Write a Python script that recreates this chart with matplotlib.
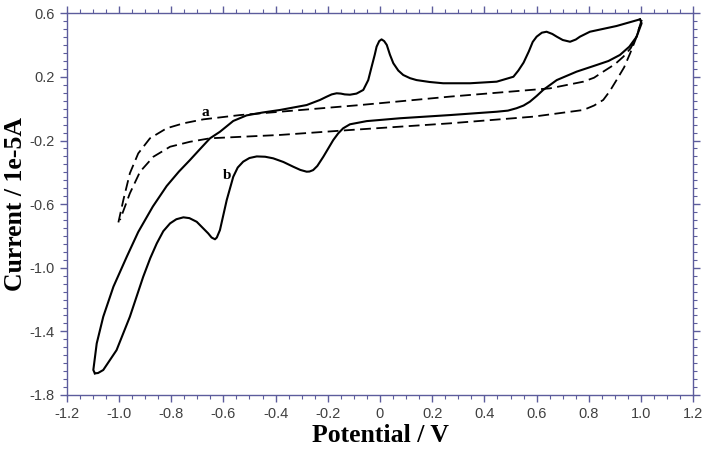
import matplotlib.pyplot as plt
from matplotlib.ticker import MultipleLocator, FixedFormatter, FixedLocator

# curve b (solid), anodic sweep from -1.1 V up to 1.0 V
b_fwd_x = [-1.092, -1.098, -1.085, -1.060, -1.021, -0.970, -0.926, -0.870, -0.817, -0.770,
           -0.728, -0.690, -0.651, -0.613, -0.562, -0.511, -0.450, -0.383, -0.281, -0.230,
           -0.205, -0.185, -0.166, -0.150, -0.135, -0.115, -0.090, -0.064, -0.045, -0.032,
           -0.020, -0.013, -0.003, 0.006, 0.016, 0.026, 0.038, 0.051, 0.070, 0.089,
           0.115, 0.140, 0.190, 0.242, 0.345, 0.447, 0.511, 0.530, 0.550, 0.570,
           0.585, 0.600, 0.620, 0.638, 0.660, 0.677, 0.700, 0.728, 0.750, 0.766,
           0.804, 0.906, 0.996]
b_fwd_y = [-1.664, -1.643, -1.476, -1.308, -1.119, -0.931, -0.775, -0.615, -0.486, -0.395,
           -0.323, -0.255, -0.186, -0.145, -0.077, -0.042, -0.024, -0.008, 0.023, 0.055,
           0.075, 0.090, 0.097, 0.095, 0.090, 0.088, 0.095, 0.118, 0.180, 0.264,
           0.340, 0.390, 0.425, 0.436, 0.425, 0.401, 0.340, 0.286, 0.240, 0.212,
           0.192, 0.180, 0.168, 0.160, 0.160, 0.170, 0.201, 0.240, 0.290, 0.360,
           0.420, 0.453, 0.478, 0.484, 0.470, 0.453, 0.432, 0.421, 0.435, 0.453,
           0.484, 0.520, 0.562]

# curve b, cathodic sweep back from 1.0 V to -1.1 V
b_rev_x = [0.996, 1.002, 0.983, 0.955, 0.919, 0.875, 0.830, 0.753, 0.677, 0.625,
           0.600, 0.574, 0.550, 0.523, 0.490, 0.447, 0.268, 0.077, -0.051, -0.115,
           -0.141, -0.160, -0.179, -0.217, -0.240, -0.256, -0.270, -0.281, -0.305, -0.332,
           -0.370, -0.409, -0.440, -0.472, -0.500, -0.524, -0.545, -0.562, -0.587, -0.613,
           -0.625, -0.632, -0.645, -0.658, -0.702, -0.730, -0.753, -0.780, -0.804, -0.830,
           -0.855, -0.880, -0.907, -0.958, -1.009, -1.060, -1.080, -1.092]
b_rev_y = [0.562, 0.537, 0.453, 0.390, 0.338, 0.300, 0.275, 0.233, 0.180, 0.118,
           0.080, 0.044, 0.020, 0.003, -0.012, -0.019, -0.040, -0.060, -0.078, -0.098,
           -0.123, -0.155, -0.197, -0.302, -0.360, -0.386, -0.395, -0.396, -0.385, -0.365,
           -0.335, -0.312, -0.302, -0.300, -0.310, -0.333, -0.370, -0.428, -0.574, -0.763,
           -0.810, -0.821, -0.810, -0.784, -0.711, -0.688, -0.683, -0.695, -0.721, -0.770,
           -0.847, -0.940, -1.057, -1.308, -1.518, -1.643, -1.662, -1.664]

# curve a (dashed), upper and lower branches
a_fwd_x = [-1.002, -0.983, -0.958, -0.926, -0.881, -0.817, -0.753, -0.677, -0.536, -0.383,
           -0.076, 0.268, 0.651, 0.779, 0.820, 0.855, 0.900, 0.932, 0.960, 0.983, 1.002]
a_fwd_y = [-0.715, -0.574, -0.406, -0.281, -0.186, -0.123, -0.092, -0.067, -0.040, -0.019,
           0.023, 0.076, 0.128, 0.170, 0.195, 0.233, 0.280, 0.327, 0.380, 0.453, 0.558]
a_rev_x = [1.002, 0.996, 0.980, 0.958, 0.935, 0.906, 0.880, 0.855, 0.820, 0.779,
           0.587, 0.268, -0.115, -0.383, -0.651, -0.728, -0.804, -0.868, -0.919, -0.958,
           -0.989, -0.996]
a_rev_y = [0.558, 0.526, 0.440, 0.348, 0.260, 0.180, 0.110, 0.055, 0.020, -0.008,
           -0.050, -0.092, -0.134, -0.165, -0.186, -0.208, -0.239, -0.302, -0.396, -0.532,
           -0.669, -0.700]

x_ticks = [-1.2, -1.0, -0.8, -0.6, -0.4, -0.2, 0.0, 0.2, 0.4, 0.6, 0.8, 1.0, 1.2]
x_labels = ['-1.2', '-1.0', '-0.8', '-0.6', '-0.4', '-0.2', '0', '0.2', '0.4', '0.6', '0.8', '1.0', '1.2']
y_ticks = [-1.8, -1.4, -1.0, -0.6, -0.2, 0.2, 0.6]
y_labels = ['-1.8', '-1.4', '-1.0', '-0.6', '-0.2', '0.2', '0.6']

axis_col = '#5c5c9c'
serif = ['Liberation Serif', 'DejaVu Serif']

fig = plt.figure(figsize=(7.11, 4.58), dpi=100)
ax = fig.add_axes([0.0938, 0.1376, 0.8813, 0.8334])

ax.plot(b_fwd_x, b_fwd_y, color='black', lw=1.5, solid_joinstyle='round')
ax.plot(b_rev_x, b_rev_y, color='black', lw=1.5, solid_joinstyle='round')
ax.plot(a_fwd_x, a_fwd_y, color='black', lw=1.3, ls=(0, (6, 3)))
ax.plot(a_rev_x, a_rev_y, color='black', lw=1.3, ls=(0, (6, 3)))

ax.text(-0.67, -0.065, 'a', family=serif, fontweight='bold', fontsize=11, ha='center', va='bottom')
ax.text(-0.585, -0.42, 'b', family=serif, fontweight='bold', fontsize=11, ha='center', va='center')

ax.set_xlim(-1.2, 1.2)
ax.set_ylim(-1.8, 0.6)
ax.xaxis.set_major_locator(FixedLocator(x_ticks))
ax.xaxis.set_major_formatter(FixedFormatter(x_labels))
ax.yaxis.set_major_locator(FixedLocator(y_ticks))
ax.yaxis.set_major_formatter(FixedFormatter(y_labels))
ax.xaxis.set_minor_locator(MultipleLocator(0.05))
ax.yaxis.set_minor_locator(MultipleLocator(0.05))

for s in ax.spines.values():
    s.set_color(axis_col)
    s.set_linewidth(1.0)
ax.tick_params(which='both', direction='out', colors=axis_col, top=True, right=True,
               labelcolor='#404040', labelsize=10.5)
ax.tick_params(which='major', length=5, width=1)
ax.tick_params(which='minor', length=3, width=0.8)
for lab in ax.get_xticklabels() + ax.get_yticklabels():
    lab.set_family(['Liberation Sans', 'DejaVu Sans'])

ax.set_xlabel('Potential / V', family=serif, fontweight='bold', fontsize=18.5, labelpad=2)
ax.set_ylabel('Current / 1e-5A', family=serif, fontweight='bold', fontsize=18.5, labelpad=2)

fig.savefig('out.png', dpi=100)
